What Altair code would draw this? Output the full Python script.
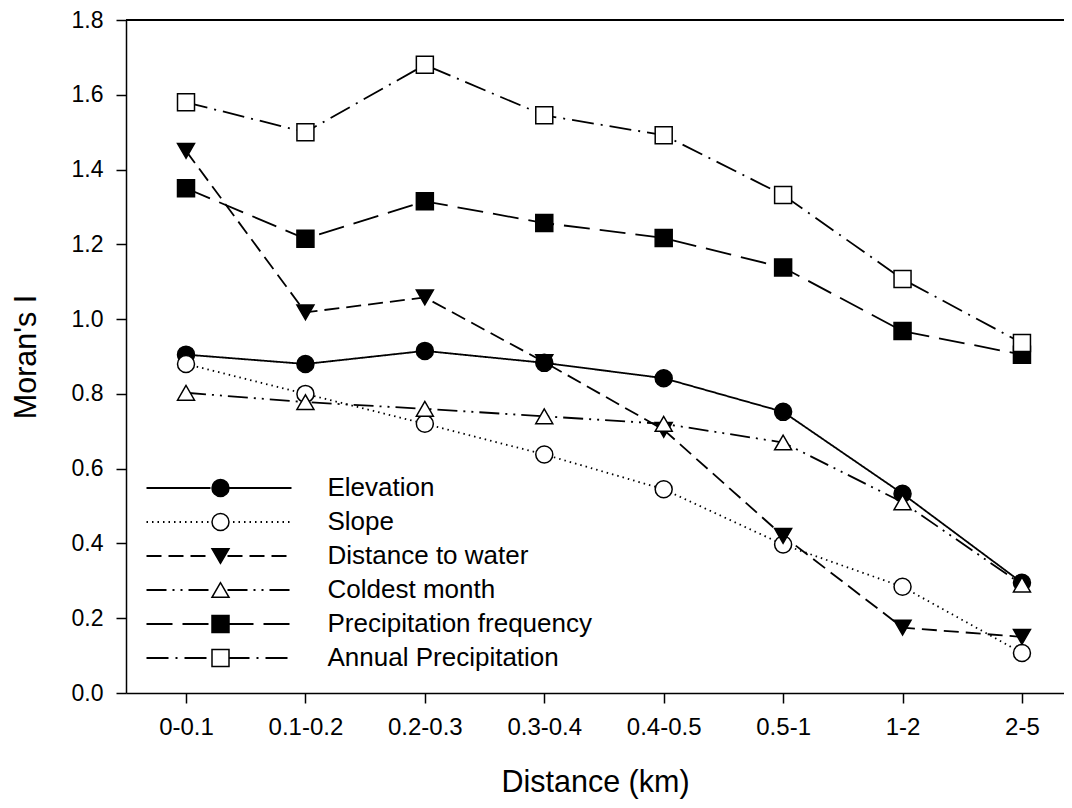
import altair as alt
import pandas as pd

categories = ["0-0.1", "0.1-0.2", "0.2-0.3", "0.3-0.4", "0.4-0.5", "0.5-1", "1-2", "2-5"]
series_names = ["Elevation", "Slope", "Distance to water", "Coldest month",
                "Precipitation frequency", "Annual Precipitation"]

elevation = [0.905, 0.880, 0.915, 0.883, 0.842, 0.752, 0.533, 0.295]
slope = [0.880, 0.800, 0.720, 0.638, 0.545, 0.397, 0.284, 0.107]
distance_water = [1.450, 1.018, 1.058, 0.885, 0.704, 0.420, 0.175, 0.150]
coldest_month = [0.803, 0.778, 0.760, 0.740, 0.720, 0.670, 0.510, 0.290]
precip_freq = [1.350, 1.215, 1.315, 1.257, 1.217, 1.138, 0.968, 0.905]
annual_precip = [1.580, 1.500, 1.680, 1.545, 1.492, 1.332, 1.107, 0.936]

y_ticks = [0.0, 0.2, 0.4, 0.6, 0.8, 1.0, 1.2, 1.4, 1.6, 1.8]

shapes = ["circle", "circle", "triangle-down", "triangle-up", "square", "square"]
fills = ["black", "white", "black", "white", "black", "white"]
outlines = ["black"] * 6
dashes = [[1, 0], [1.5, 4], [15, 7], [20, 6, 2, 6, 2, 6], [26, 10], [22, 7, 2, 7]]

# line-style key uses distinct labels so its legend is not merged with the marker legend
line_keys = [n + " (line)" for n in series_names]

all_values = [elevation, slope, distance_water, coldest_month, precip_freq, annual_precip]
rows = []
for name, key, vals in zip(series_names, line_keys, all_values):
    for i, (c, v) in enumerate(zip(categories, vals)):
        rows.append({"series_line": key, "series": name, "idx": i, "cat": c, "value": v})
df = pd.DataFrame(rows)

FONT = "Liberation Sans"
label_expr = "[" + ",".join("'" + c + "'" for c in categories) + "][datum.value]"

x_enc = alt.X(
    "idx:Q",
    scale=alt.Scale(domain=[-0.5025, 7.352], nice=False, zero=False),
    axis=alt.Axis(values=list(range(len(categories))), labelExpr=label_expr,
                  title="Distance (km)", tickSize=10, labelPadding=12,
                  labelFontSize=24, titleFontSize=30.5, titlePadding=28,
                  labelFlush=False),
)
y_enc = alt.Y(
    "value:Q",
    scale=alt.Scale(domain=[0, 1.8], nice=False, zero=True),
    axis=alt.Axis(values=y_ticks, format=".1f", title="Moran's I", tickSize=10,
                  labelPadding=13, labelFontSize=23, titleFontSize=30.5,
                  titlePadding=30),
)

legend_line_path = "M-7.25,0H-0.85M0.85,0H7.25"
row_pad = 8
leg_y = 455
leg_font = 26

lines = alt.Chart(df).mark_line(color="black", strokeWidth=1.8).encode(
    x=x_enc,
    y=y_enc,
    strokeDash=alt.StrokeDash(
        "series_line:N",
        scale=alt.Scale(domain=line_keys, range=dashes),
        legend=alt.Legend(orient="none", legendX=80, legendY=leg_y, title=None,
                          symbolType=legend_line_path, symbolSize=400,
                          symbolStrokeWidth=1.8, symbolStrokeColor="black",
                          labelFontSize=leg_font, labelExpr="''", padding=0,
                          rowPadding=row_pad, labelFont=FONT),
    ),
)

pt_legend = alt.Legend(orient="none", legendX=81.5, legendY=leg_y, title=None,
                       symbolSize=289, symbolStrokeWidth=1.5,
                       symbolStrokeColor="black", labelFontSize=leg_font,
                       labelOffset=94, labelColor="black", padding=0,
                       labelLimit=500, rowPadding=row_pad, labelFont=FONT)

points = alt.Chart(df).mark_point(filled=True, size=289, strokeWidth=1.5,
                                  opacity=1).encode(
    x=x_enc,
    y=y_enc,
    shape=alt.Shape("series:N", scale=alt.Scale(domain=series_names, range=shapes),
                    legend=pt_legend),
    fill=alt.Fill("series:N", scale=alt.Scale(domain=series_names, range=fills),
                  legend=pt_legend),
    stroke=alt.Stroke("series:N", scale=alt.Scale(domain=series_names, range=outlines),
                      legend=pt_legend),
)

top_rule = alt.Chart(df).mark_rule(color="black", strokeWidth=1.5).encode(
    y=alt.datum(1.8)
)

chart = alt.layer(lines, points, top_rule).properties(
    width=938,
    height=673,
    autosize=alt.AutoSizeParams(type="none"),
    padding={"left": 118, "top": 12, "right": 0, "bottom": 115},
).configure_view(
    stroke="transparent"
).configure_axis(
    grid=False,
    domainColor="black",
    domainWidth=1.5,
    tickColor="black",
    tickWidth=1.5,
    labelColor="black",
    titleColor="black",
    labelFont=FONT,
    titleFont=FONT,
    titleFontWeight="normal",
).configure_legend(
    labelFont=FONT
)

chart.save("out.html", embed_options={"renderer": "svg", "actions": False})
